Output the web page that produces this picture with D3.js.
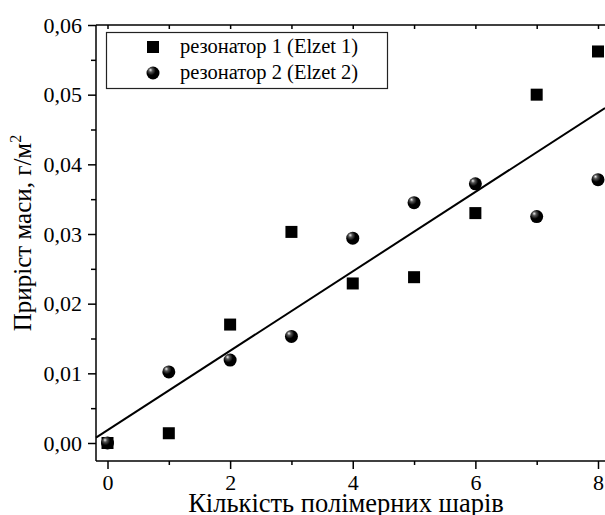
<!DOCTYPE html>
<html lang="uk">
<head>
  <meta charset="UTF-8">
  <title>Приріст маси</title>
  <script src="https://d3js.org/d3.v7.min.js"></script>
  <style>
    body { margin: 0; background: white; }
    svg text { font-family: "Liberation Serif", "Times New Roman", serif; fill: black; }
    .axis path, .axis line { stroke: black; stroke-width: 1.5px; }
    .axis text { font-size: 22px; }
  </style>
</head>
<body>
<svg id="svg"></svg>
<script>
// data
const layers = [0, 1, 2, 3, 4, 5, 6, 7, 8];
const res1 = [0.0000, 0.0014, 0.0170, 0.0303, 0.0229, 0.0238, 0.0330, 0.0500, 0.0562];
const res2 = [0.0000, 0.0102, 0.0119, 0.0153, 0.0294, 0.0345, 0.0372, 0.0325, 0.0378];
const xTicks = [0, 2, 4, 6, 8];
const yTicks = [0, 0.01, 0.02, 0.03, 0.04, 0.05, 0.06];
const legendLabels = ["резонатор 1 (Elzet 1)", "резонатор 2 (Elzet 2)"];

const width = 605, height = 515;
const plotLeft = 96, plotRight = 620, plotTop = 25, plotBottom = 461;

const x = d3.scaleLinear().domain([0, 8]).range([107.5, 598]);
const y = d3.scaleLinear().domain([0, 0.06]).range([443, 25]);
const fmt = d => d3.format(".2f")(d).replace(".", ",");

const svg = d3.select("#svg").attr("width", width).attr("height", height);

// linear fit over both series
const pts = [];
layers.forEach((l, i) => { pts.push([l, res1[i]]); pts.push([l, res2[i]]); });
const mx = d3.mean(pts, p => p[0]), my = d3.mean(pts, p => p[1]);
const slope = d3.sum(pts, p => (p[0]-mx)*(p[1]-my)) / d3.sum(pts, p => (p[0]-mx)*(p[0]-mx));
const icpt = my - slope*mx;

// axes
const xAxis = svg.append("g").attr("class", "axis")
  .attr("transform", `translate(0,${plotBottom})`)
  .call(d3.axisBottom(x).tickValues(xTicks).tickSize(8).tickPadding(5).tickSizeOuter(0));
xAxis.select(".domain").attr("d", `M${plotLeft},0H${plotRight}`);
svg.append("g").attr("class", "axis")
  .attr("transform", `translate(0,${plotBottom})`)
  .call(d3.axisBottom(x).tickValues([1, 3, 5, 7]).tickSize(4).tickFormat(""))
  .select(".domain").remove();

const topAxis = svg.append("g").attr("class", "axis")
  .attr("transform", `translate(0,${plotTop})`)
  .call(d3.axisBottom(x).tickValues(d3.range(0, 9)).tickSize(4).tickFormat(""));
topAxis.select(".domain").attr("d", `M${plotLeft},0H${plotRight}`);

const yAxis = svg.append("g").attr("class", "axis")
  .attr("transform", `translate(${plotLeft},0)`)
  .call(d3.axisLeft(y).tickValues(yTicks).tickSize(8).tickPadding(6).tickFormat(fmt));
yAxis.select(".domain").attr("d", `M0,${plotBottom}V${plotTop}`);
svg.append("g").attr("class", "axis")
  .attr("transform", `translate(${plotLeft},0)`)
  .call(d3.axisLeft(y).tickValues(d3.range(0.005, 0.06, 0.01)).tickSize(5).tickFormat(""))
  .select(".domain").remove();

// fit line
svg.append("line")
  .attr("x1", plotLeft).attr("y1", y(icpt + slope*x.invert(plotLeft)))
  .attr("x2", width).attr("y2", y(icpt + slope*x.invert(width)))
  .attr("stroke", "black").attr("stroke-width", 2);

// sphere gradient
const grad = svg.append("defs").append("radialGradient")
  .attr("id", "ball").attr("cx", "38%").attr("cy", "35%").attr("r", "60%")
  .attr("fx", "30%").attr("fy", "26%");
grad.append("stop").attr("offset", "0%").attr("stop-color", "#f2f2f2");
grad.append("stop").attr("offset", "25%").attr("stop-color", "#555555");
grad.append("stop").attr("offset", "60%").attr("stop-color", "#000000");
grad.append("stop").attr("offset", "100%").attr("stop-color", "#000000");

const sq = 12, rad = 6.5;
svg.append("g").selectAll("rect")
  .data(layers)
  .join("rect")
  .attr("x", (d, i) => x(d) - sq/2)
  .attr("y", (d, i) => y(res1[i]) - sq/2)
  .attr("width", sq).attr("height", sq)
  .attr("fill", "black");

svg.append("g").selectAll("circle")
  .data(layers)
  .join("circle")
  .attr("cx", d => x(d))
  .attr("cy", (d, i) => y(res2[i]))
  .attr("r", rad)
  .attr("fill", "url(#ball)");

// legend
const lg = svg.append("g");
lg.append("rect").attr("x", 106.5).attr("y", 32.5).attr("width", 281).attr("height", 56)
  .attr("fill", "white").attr("stroke", "#222").attr("stroke-width", 1.2);
lg.append("rect").attr("x", 153 - sq/2).attr("y", 47 - sq/2).attr("width", sq).attr("height", sq).attr("fill", "black");
lg.append("circle").attr("cx", 153).attr("cy", 73).attr("r", rad).attr("fill", "url(#ball)");
lg.selectAll("text").data(legendLabels).join("text")
  .attr("x", 180).attr("y", (d, i) => 53 + i*26)
  .attr("font-size", 20.5).text(d => d);

// axis titles
svg.append("text").attr("x", 346).attr("y", 512).attr("text-anchor", "middle")
  .attr("font-size", 26.5).text("Кількість полімерних шарів");
const yt = svg.append("text").attr("transform", "translate(31,233) rotate(-90)")
  .attr("text-anchor", "middle").attr("font-size", 25);
yt.append("tspan").text("Приріст маси, г/м");
yt.append("tspan").attr("dy", -10).attr("font-size", 16).text("2");
</script>
</body>
</html>
